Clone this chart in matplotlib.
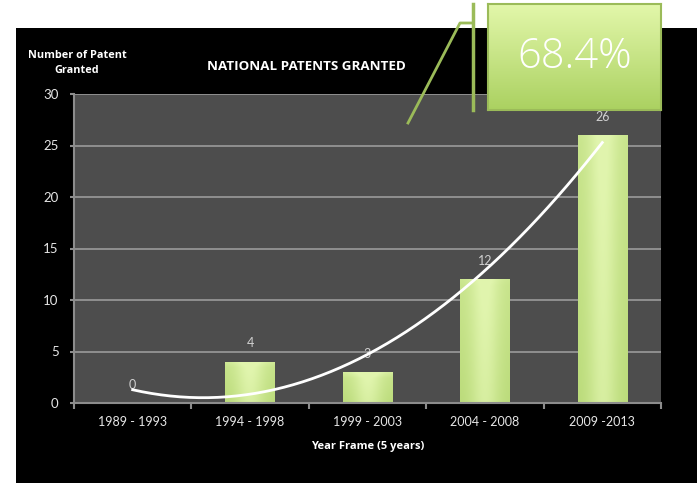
import numpy as np
import matplotlib.pyplot as plt
from matplotlib.patches import Rectangle
from matplotlib.lines import Line2D

periods = ["1989 - 1993", "1994 - 1998", "1999 - 2003", "2004 - 2008", "2009 -2013"]
patents = [0, 4, 3, 12, 26]
growth_label = "68.4%"

plt.rcParams['font.family'] = ['Lato', 'DejaVu Sans']
bold_font = ['Open Sans', 'DejaVu Sans']

fig = plt.figure(figsize=(7, 4.83), dpi=100)
fig.patch.set_facecolor('white')

# black backdrop behind the chart
fig.patches.append(Rectangle((16 / 700, 0), 681 / 700, 1 - 28 / 483,
                             transform=fig.transFigure, facecolor='black',
                             edgecolor='none', zorder=0))

ax = fig.add_axes([74 / 700, 1 - 403 / 483, 587 / 700, 309 / 483])
ax.set_facecolor('#4d4d4d')
ax.set_zorder(1)

x = np.arange(len(patents))
ax.set_xlim(-0.5, len(patents) - 0.5)
ax.set_ylim(0, 30)
ax.set_yticks(range(0, 31, 5))
ax.yaxis.grid(True, color='#9a9a9a', lw=1.2)
ax.set_axisbelow(True)

# green bars with a soft glassy gradient
w = 0.42
prof_h = np.exp(-((np.linspace(-1, 1, 60)) ** 2) / 0.35)
light = np.array([0.88, 0.96, 0.68])
dark = np.array([0.63, 0.79, 0.34])
for xi, v in zip(x, patents):
    if v == 0:
        continue
    bar = ax.bar(xi, v, width=w, color='#b5d872', edgecolor='none', zorder=2)[0]
    n = 100
    vert = np.linspace(0, 1, n)[:, None]
    mix = 0.4 + 0.45 * prof_h[None, :] + 0.2 * vert
    top = np.clip((vert - (1 - 6 / max(v * 10.3, 1))) * 3, 0, 1)
    mix = np.clip(mix + top * 0.3, 0, 1)
    img = dark[None, None, :] * (1 - mix[..., None]) + light[None, None, :] * mix[..., None]
    im = ax.imshow(img, extent=[xi - w / 2, xi + w / 2, 0, v], origin='lower',
                   aspect='auto', zorder=2.1, interpolation='bilinear')
    im.set_clip_path(bar)

# value labels
for xi, v in zip(x, patents):
    ax.text(xi, v + 1.2, str(v), ha='center', va='bottom', color='#d0d0d0',
            fontsize=9, zorder=2.5)

# quadratic trend line
coef = np.polyfit(x, patents, 2)
xt = np.linspace(0, len(patents) - 1, 200)
ax.plot(xt, np.polyval(coef, xt), color='white', lw=2, zorder=3)

for side in ['top', 'right']:
    ax.spines[side].set_visible(False)
for side in ['left', 'bottom']:
    ax.spines[side].set_color('#8c8c8c')
    ax.spines[side].set_linewidth(1.5)

ax.set_xticks(x)
ax.set_xticklabels(periods)
ax.set_xticks(np.arange(-0.5, len(patents)), minor=True)
ax.tick_params(axis='x', which='major', length=0, pad=9, labelcolor='#e6e6e6', labelsize=9)
ax.tick_params(axis='x', which='minor', length=4, width=1.5, color='#8c8c8c', direction='out')
ax.tick_params(axis='y', length=3, width=1.5, color='#8c8c8c', pad=8,
               labelcolor='#e6e6e6', labelsize=9.5)

ax.set_xlabel("Year Frame (5 years)", color='white', fontsize=8,
              fontweight='bold', family=bold_font, labelpad=10)

fig.text(77 / 700, 1 - 63 / 483, "Number of Patent\nGranted", ha='center',
         va='center', color='white', fontsize=7.8, fontweight='bold',
         family=bold_font, linespacing=1.55)
fig.text(306 / 700, 1 - 67 / 483, "NATIONAL PATENTS GRANTED", ha='center',
         va='center', color='white', fontsize=9.6, fontweight='bold',
         family=bold_font)

# callout box
cax = fig.add_axes([488 / 700, 1 - 110 / 483, 173 / 700, 106 / 483])
cax.set_zorder(5)
grad = np.linspace(0, 1, 100)[:, None]
ctop = np.array([0.89, 0.97, 0.67])
cbot = np.array([0.67, 0.82, 0.38])
cimg = cbot[None, None, :] * (1 - grad[..., None]) + ctop[None, None, :] * grad[..., None]
cimg = np.repeat(cimg, 10, axis=1)
cax.imshow(cimg, extent=[0, 1, 0, 1], origin='lower', aspect='auto')
cax.set_xticks([])
cax.set_yticks([])
for s in cax.spines.values():
    s.set_color('#9bbb59')
    s.set_linewidth(1.5)
cax.text(0.5, 0.5, growth_label, ha='center', va='center', color='white',
         fontsize=30, family=['Open Sans', 'DejaVu Sans'], fontweight='light',
         transform=cax.transAxes)

# connector
def px(xp, yp):
    return xp / 700, 1 - yp / 483

conn = [px(408, 123), px(460, 23), px(473, 23)]
fig.lines.append(Line2D([p[0] for p in conn], [p[1] for p in conn],
                        transform=fig.transFigure, color='#9bbb59', lw=2, zorder=6))
v1, v2 = px(473, 4), px(473, 110)
fig.lines.append(Line2D([v1[0], v2[0]], [v1[1], v2[1]], transform=fig.transFigure,
                        color='#9bbb59', lw=2.5, zorder=6))

fig.savefig("out.png", dpi=100, facecolor=fig.get_facecolor())
